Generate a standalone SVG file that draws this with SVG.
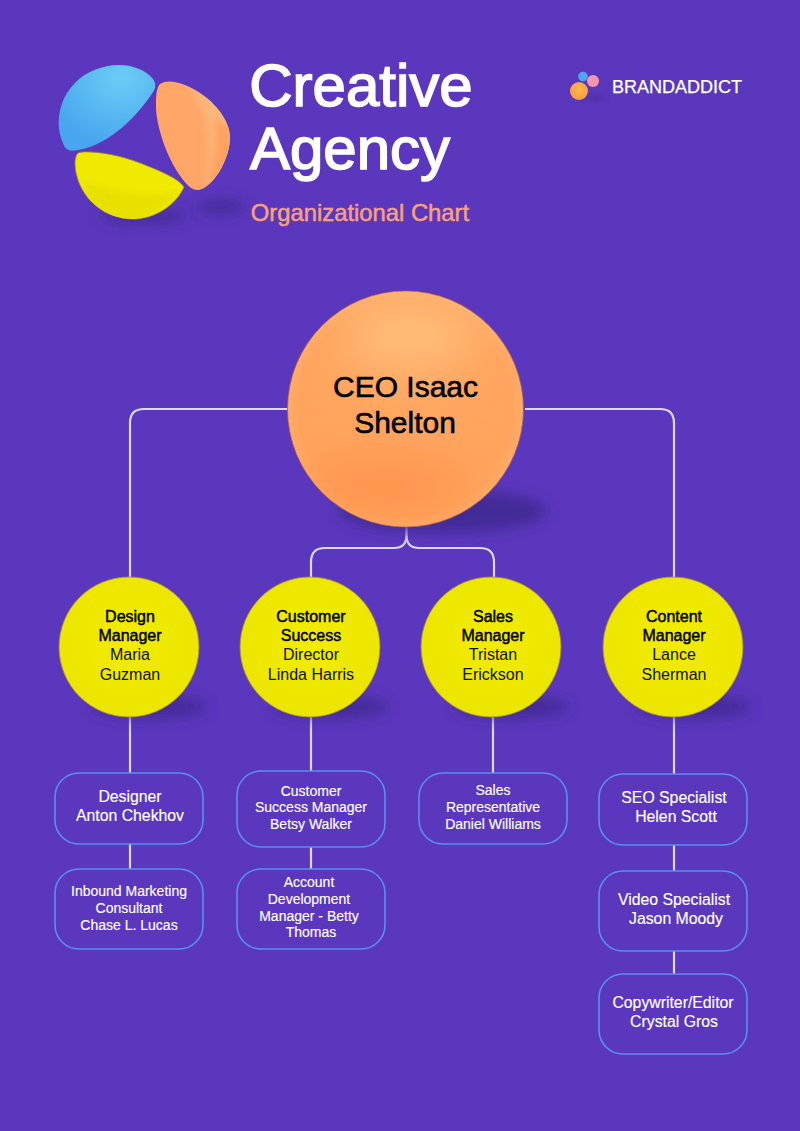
<svg xmlns="http://www.w3.org/2000/svg" width="800" height="1131" viewBox="0 0 800 1131">
<style>
text{font-family:"Liberation Sans",Arial,sans-serif;text-anchor:middle}
.con{fill:none;stroke:#e0d6f6;stroke-width:2.2}
.box{fill:#5b37bd;stroke:#5a8ef0;stroke-width:1.6}
.bt{fill:#fff;stroke:#fff;stroke-width:.15;font-size:15.8px}
.bs{fill:#fff;stroke:#fff;stroke-width:.15;font-size:14px}
.yt{fill:#111;font-size:16px}
.b{fill:#000;stroke:#000;stroke-width:.45}
.sh{fill:#432a97;filter:url(#blur)}
.yc{fill:url(#yel);stroke:#a08a3a;stroke-width:.8}
</style>
<defs>
<filter id="blur" x="-40%" y="-100%" width="180%" height="300%"><feGaussianBlur stdDeviation="7"/></filter>
<filter id="blurS" x="-40%" y="-100%" width="180%" height="300%"><feGaussianBlur stdDeviation="3"/></filter>
<filter id="blurM" x="-60%" y="-100%" width="220%" height="300%"><feGaussianBlur stdDeviation="4"/></filter>
<filter id="blurL" x="-80%" y="-150%" width="260%" height="400%"><feGaussianBlur stdDeviation="24"/></filter>
<clipPath id="ceoClip"><circle cx="405.500" cy="409" r="118"/></clipPath>
<clipPath id="orClip"><path d="M160 84C166 80 175 81 185 85C212 96 230 120 230 137C230 160 212 188 199 190C192 191 186 184 181 177C168 160 155 125 156 103C156 94 157 87 160 84Z"/></clipPath>
<clipPath id="yeClip"><path d="M78 153C85 150 115 153 140 163C160 171 178 178 184 187C176 205 155 219 133 219C105 219 85 200 78 180C74 168 74 157 78 153Z"/></clipPath>
<radialGradient id="org" cx="0.5" cy="0.5" r="0.5"><stop offset="0" stop-color="#ffa762"/><stop offset="0.9" stop-color="#ffa45e"/><stop offset="1" stop-color="#ffac6a"/></radialGradient>
<radialGradient id="yel" cx="0.5" cy="0.45" r="0.55"><stop offset="0" stop-color="#f2ec00"/><stop offset="1" stop-color="#ece500"/></radialGradient>
<radialGradient id="blu" cx="0.65" cy="0.15" r="0.8"><stop offset="0" stop-color="#6bcdf5"/><stop offset="1" stop-color="#47a6ee"/></radialGradient>
<radialGradient id="sm" cx="0.5" cy="0.4" r="0.6"><stop offset="0" stop-color="#ffb84e"/><stop offset="1" stop-color="#f99e3e"/></radialGradient>
</defs>
<rect width="800" height="1131" fill="#5b37bd"/>
<g id="logo">
<ellipse cx="143" cy="216" rx="44" ry="7" class="sh"/>
<ellipse cx="221" cy="207" rx="24" ry="7" class="sh"/>
<path d="M153 79C156 83 156 88 153 92C138 115 110 145 78 150C70 152 65 150 63 143C55 125 58 100 75 83C95 62 135 58 153 79Z" fill="url(#blu)"/>
<path d="M160 84C166 80 175 81 185 85C212 96 230 120 230 137C230 160 212 188 199 190C192 191 186 184 181 177C168 160 155 125 156 103C156 94 157 87 160 84Z" fill="#ffa668"/>
<g clip-path="url(#orClip)">
<path d="M186 86C206 108 214 135 206 185L232 170V100Z" fill="#fbb679" filter="url(#blurS)"/>
<path d="M208 178C216 155 218 135 214 118L232 130V180Z" fill="#ffa262" filter="url(#blurS)"/>
</g>
<path d="M78 153C85 150 115 153 140 163C160 171 178 178 184 187C176 205 155 219 133 219C105 219 85 200 78 180C74 168 74 157 78 153Z" fill="#f0ea00" stroke="#a08a3a" stroke-width="0.8"/>
<g clip-path="url(#yeClip)"><path d="M84 180C115 195 155 196 184 192L140 225H85Z" fill="#e8e100" filter="url(#blurS)"/></g>
</g>
<g id="title">
<text x="361" y="106" style="font-size:60px" fill="#fff" stroke="#fff" stroke-width="1.6">Creative</text>
<text x="350" y="169" style="font-size:60px" fill="#fff" stroke="#fff" stroke-width="1.6">Agency</text>
<text x="360" y="221" style="font-size:23.800px" fill="#f7a27a" stroke="#f7a27a" stroke-width="0.5">Organizational Chart</text>
</g>
<g id="brand">
<ellipse cx="594" cy="98" rx="11" ry="2" fill="#432a97" filter="url(#blurS)"/>
<circle cx="583" cy="76.500" r="4.800" fill="#4ea5ee"/>
<circle cx="593" cy="81" r="6" fill="#f595a9"/>
<circle cx="579" cy="91" r="9" fill="url(#sm)"/>
<text x="677" y="93" style="font-size:18px" fill="#fff" stroke="#fff" stroke-width="0.25">BRANDADDICT</text>
</g>
<g id="connectors">
<path class="con" d="M288 409H144Q130 409 130 423V577"/>
<path class="con" d="M525 409H660Q674 409 674 423V577"/>
<path class="con" d="M406.500 527V536Q406 548 394 548H325Q311 548 311 562V577"/>
<path class="con" d="M406.500 536Q407 548 419 548H480Q494 548 494 562V577"/>
<path class="con" d="M130 717V773M130 844V869"/>
<path class="con" d="M311 717V771M311 847V869"/>
<path class="con" d="M493 717V773"/>
<path class="con" d="M674 717V774M674 845V871M674 951V974"/>
</g>
<g id="ceo">
<ellipse cx="443" cy="511" rx="104" ry="22" class="sh"/>
<circle cx="405.500" cy="409" r="118" fill="url(#org)" stroke="#a8604f" stroke-width=".8"/>
<g clip-path="url(#ceoClip)">
<ellipse cx="410" cy="335" rx="65" ry="30" fill="#ffc27e" filter="url(#blurL)"/>
<ellipse cx="385" cy="485" rx="85" ry="26" fill="#ff9248" filter="url(#blurL)"/>
</g>
<text x="405.500" y="397" style="font-size:30px" fill="#000" stroke="#000" stroke-width="0.6">CEO Isaac</text>
<text x="405" y="433" style="font-size:30px" fill="#000" stroke="#000" stroke-width="0.6">Shelton</text>
</g>
<g id="m1">
<ellipse cx="150" cy="707" rx="58" ry="11" class="sh"/>
<circle class="yc" cx="129" cy="647" r="70"/>
<text class="yt b" x="130" y="622">Design</text><text class="yt b" x="130" y="641">Manager</text><text class="yt" x="130" y="660">Maria</text><text class="yt" x="130" y="680">Guzman</text>
</g>
<g id="m2">
<ellipse cx="331" cy="707" rx="58" ry="11" class="sh"/>
<circle class="yc" cx="310" cy="647" r="70"/>
<text class="yt b" x="311" y="622">Customer</text><text class="yt b" x="311" y="641">Success</text><text class="yt" x="311" y="660">Director</text><text class="yt" x="311" y="680">Linda Harris</text>
</g>
<g id="m3">
<ellipse cx="512" cy="707" rx="58" ry="11" class="sh"/>
<circle class="yc" cx="491" cy="647" r="70"/>
<text class="yt b" x="493" y="622">Sales</text><text class="yt b" x="493" y="641">Manager</text><text class="yt" x="493" y="660">Tristan</text><text class="yt" x="493" y="680">Erickson</text>
</g>
<g id="m4">
<ellipse cx="694" cy="707" rx="58" ry="11" class="sh"/>
<circle class="yc" cx="673" cy="647" r="70"/>
<text class="yt b" x="674" y="622">Content</text><text class="yt b" x="674" y="641">Manager</text><text class="yt" x="674" y="660">Lance</text><text class="yt" x="674" y="680">Sherman</text>
</g>
<g id="b1"><rect class="box" x="55" y="773" width="148" height="71" rx="24"/><text class="bt" x="130" y="802">Designer</text><text class="bt" x="130" y="821">Anton Chekhov</text></g>
<g id="b2"><rect class="box" x="55" y="869" width="148" height="80" rx="24"/><text class="bs" x="129" y="896">Inbound Marketing</text><text class="bs" x="129" y="913">Consultant</text><text class="bs" x="129" y="930">Chase L. Lucas</text></g>
<g id="b3"><rect class="box" x="237" y="771" width="148" height="76" rx="24"/><text class="bs" x="311" y="796">Customer</text><text class="bs" x="311" y="812">Success Manager</text><text class="bs" x="311" y="829">Betsy Walker</text></g>
<g id="b4"><rect class="box" x="237" y="869" width="148" height="80" rx="24"/><text class="bs" x="309" y="887">Account</text><text class="bs" x="309" y="904">Development</text><text class="bs" x="309" y="921">Manager - Betty</text><text class="bs" x="311" y="937">Thomas</text></g>
<g id="b5"><rect class="box" x="419" y="773" width="148" height="71" rx="24"/><text class="bs" x="493" y="795">Sales</text><text class="bs" x="493" y="812">Representative</text><text class="bs" x="493" y="829">Daniel Williams</text></g>
<g id="b6"><rect class="box" x="599" y="774" width="148" height="71" rx="24"/><text class="bt" x="674" y="803">SEO Specialist</text><text class="bt" x="676" y="822">Helen Scott</text></g>
<g id="b7"><rect class="box" x="599" y="871" width="148" height="80" rx="24"/><text class="bt" x="674" y="905">Video Specialist</text><text class="bt" x="676" y="924">Jason Moody</text></g>
<g id="b8"><rect class="box" x="599" y="974" width="148" height="80" rx="24"/><text class="bt" x="673" y="1008">Copywriter/Editor</text><text class="bt" x="674" y="1027">Crystal Gros</text></g>
</svg>
